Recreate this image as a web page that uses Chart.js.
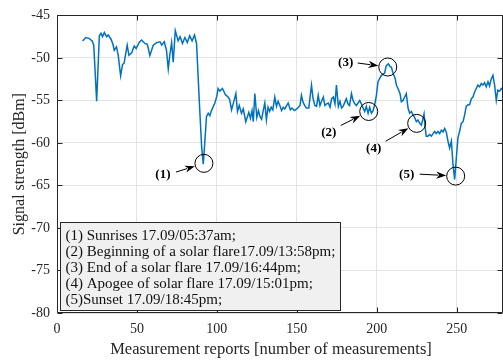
<!DOCTYPE html>
<html>
<head>
<meta charset="utf-8">
<script src="https://cdn.jsdelivr.net/npm/chart.js@4"></script>
<style>
html,body{margin:0;padding:0;background:#fff;}
#wrap{width:503px;height:363px;position:relative;}
</style>
</head>
<body>
<div id="wrap"><canvas id="c" width="503" height="363"></canvas></div>
<script>
// ---- data ----
const measurementIdx = [
16,18,20,22,23,24.8,26.5,27.5,28.5,29.6,31,32,33.8,35,35.8,37.2,38.3,39.8,41,42,43.9,45,46.7,48.3,49.5,51.3,52.9,55,56.5,58.1,60.2,62.3,64.4,65.5,67.1,68.5,69.6,70.6,71.7,72.7,74,75.8,77,78.5,80,81.5,83,84.5,86,87.3,
89,90.5,91.5,92.5,93.5,94.6,95.6,96.6,98.75,100,100.8,101.9,103.5,105.3,107,108,109.2,110.5,111.9,112.9,114,115.4,116.5,118.1,120,121,122,122.8,123.75,125,126,127,128,129,130,131,132,133,134,135,136.25,137.3,138.3,139.4,140.5,141.5,142.5,144.6,
146,147,148.5,150,151,152,152.9,153.9,155,156,157.5,159.2,160.2,161.3,162.4,163.4,164.5,165.5,166.6,167.6,168.7,169.7,170.8,171.8,172.9,173.9,174.8,176,177,178,179,181,182,183,184.2,185.2,186.3,187.3,189.4,190.4,191.5,192.5,193.5,194.6,195.6,196.7,197.7,198.75,199.8,200.8,202.9,204.9,206,207.3,208.3,209.2,210.2,211.5,212.3,213.3,214.6,215.4,216.5,217.5,218.5,219.6,220.6,221.7,222.7,223.7,224.8,225.8,226.9,227.9,228.9,229.6,230.3,231,232,233.1,234.2,235.2,236.25,237.3,238.3,239.4,240.4,241.5,242.5,243.5,244.6,245.6,246.7,247.7,248.75,249.8,250.8,251.9,252.9,254,255,256,257.1,258.1,259.2,260.2,261.25,262.3,263.3,264.4,265.4,266.5,267.5,268.5,269.6,270.6,271.6,272.7,273.75,274.8,275.8,276.9,277.9,279
];
const signalDbm = [
-48.0,-47.6,-47.7,-48.0,-48.5,-55.1,-47.4,-47.1,-47.5,-47.0,-47.5,-47.3,-47.8,-48.4,-49.1,-48.7,-49.7,-52.1,-50.8,-50.6,-48.5,-49.7,-49.4,-48.6,-48.9,-48.2,-47.9,-48.3,-48.4,-49.7,-48.5,-48.2,-48.1,-48.5,-48.1,-49.1,-51.3,-49.6,-48.2,-50.5,-46.8,-48.0,-47.5,-48.3,-47.6,-48.2,-47.4,-48.0,-47.3,-48.3,
-55.0,-60.5,-62.5,-59.8,-56.9,-56.5,-56.8,-56.2,-55.3,-54.5,-53.6,-53.9,-53.6,-54.3,-54.6,-54.9,-56.1,-55.2,-54.2,-56.3,-55.6,-56.5,-56.0,-57.5,-56.4,-57.1,-56.2,-57.5,-54.2,-57.0,-56.2,-56.9,-57.2,-56.2,-55.3,-57.3,-55.8,-56.3,-55.8,-56.1,-54.6,-55.7,-55.1,-55.6,-56.2,-55.8,-56.0,-55.3,
-56.1,-55.9,-56.2,-56.0,-55.8,-55.6,-54.4,-55.2,-55.6,-55.9,-55.9,-53.2,-54.8,-55.6,-55.7,-54.4,-55.6,-55.1,-54.6,-55.6,-55.4,-55.3,-55.8,-54.8,-54.6,-55.4,-53.2,-55.7,-55.1,-55.9,-55.7,-54.8,-55.4,-55.6,-54.2,-55.0,-55.4,-55.6,-55.0,-55.4,-55.9,-56.3,-55.7,-56.5,-55.8,-56.5,-56.2,-55.5,-54.4,-52.8,-52.05,-51.8,-50.9,-50.7,-51.0,-51.1,-51.8,-52.4,-53.2,-53.6,-54.2,-55.15,-55.0,-54.6,-54.2,-55.9,-56.5,-56.3,-56.7,-57.0,-57.5,-57.3,-57.7,-57.9,-57.2,-56.6,-58.2,-59.2,-59.2,-59.0,-59.2,-58.9,-58.65,-58.9,-58.65,-58.9,-58.5,-58.7,-58.3,-58.7,-59.8,-60.6,-59.8,-62.5,-64.3,-61.8,-59.4,-58.6,-57.7,-57.5,-56.7,-55.7,-55.5,-55.5,-54.8,-54.6,-54.0,-53.6,-53.2,-53.4,-53.0,-53.2,-52.9,-53.4,-52.8,-53.3,-52.5,-52.05,-53.2,-55.0,-53.8,-53.9,-53.6,-53.8
];
const xTicks = [0, 50, 100, 150, 200, 250];
const yTicks = [-80, -75, -70, -65, -60, -55, -50, -45];

// annotation markers (data coordinates)
const markerLabels = ['(1)', '(2)', '(3)', '(4)', '(5)'];
const markerX = [91.9, 195.0, 206.9, 225.0, 249.4];
const markerY = [-62.4, -56.3, -51.07, -57.7, -63.9];
const labelX = [66.25, 170.0, 180.6, 198.1, 218.75];
const labelY = [-63.67, -58.77, -50.6, -60.63, -63.67];
const tailX = [74.4, 177.5, 188.1, 205.6, 226.9];
const tailY = [-63.43, -57.95, -50.6, -59.8, -63.67];

const legendLines = [
  '(1) Sunrises 17.09/05:37am;',
  '(2) Beginning of a solar flare17.09/13:58pm;',
  '(3) End of a solar flare 17.09/16:44pm;',
  '(4) Apogee of solar flare 17.09/15:01pm;',
  '(5)Sunset 17.09/18:45pm;'
];

const serif = '"Liberation Serif", "Times New Roman", serif';
const axisColor = '#262626';

const points = measurementIdx.map((x, i) => ({x: x, y: signalDbm[i]}));

const decor = {
  id: 'decor',
  afterDatasetsDraw(chart) {
    const ctx = chart.ctx;
    const a = chart.chartArea;
    const xs = chart.scales.x, ys = chart.scales.y;
    ctx.save();
    // axes box
    ctx.strokeStyle = axisColor;
    ctx.lineWidth = 1;
    const L = Math.round(a.left) + 0.5, R = Math.round(a.right) - 0.5;
    const T = Math.round(a.top) + 0.5, B = Math.round(a.bottom) - 0.5;
    ctx.beginPath();
    ctx.moveTo(L, B); ctx.lineTo(L, T); ctx.lineTo(R, T); ctx.lineTo(R, B); ctx.lineTo(L, B);
    ctx.stroke();
    // inward ticks
    const tl = 5;
    ctx.beginPath();
    xTicks.forEach(v => {
      const px = Math.round(xs.getPixelForValue(v)) + 0.5;
      ctx.moveTo(px, B); ctx.lineTo(px, B - tl);
      ctx.moveTo(px, T); ctx.lineTo(px, T + tl);
    });
    yTicks.forEach(v => {
      const py = Math.round(ys.getPixelForValue(v)) + 0.5;
      ctx.moveTo(L, py); ctx.lineTo(L + tl, py);
      ctx.moveTo(R, py); ctx.lineTo(R - tl, py);
    });
    ctx.stroke();

    // markers: circles, arrows, labels
    ctx.strokeStyle = '#000';
    ctx.fillStyle = '#000';
    const r = 9;
    markerLabels.forEach((lab, i) => {
      const cx = xs.getPixelForValue(markerX[i]), cy = ys.getPixelForValue(markerY[i]);
      ctx.lineWidth = 1;
      ctx.beginPath(); ctx.arc(cx, cy, r, 0, Math.PI * 2); ctx.stroke();
      const tx = xs.getPixelForValue(tailX[i]), ty = ys.getPixelForValue(tailY[i]);
      const dx = cx - tx, dy = cy - ty, d = Math.hypot(dx, dy);
      const ux = dx / d, uy = dy / d;
      const ex = cx - ux * (r + 0.5), ey = cy - uy * (r + 0.5);
      const hl = 10, hw = 3.6;
      const bx = ex - ux * hl, by = ey - uy * hl;
      ctx.beginPath(); ctx.moveTo(tx, ty); ctx.lineTo(bx + ux * 2, by + uy * 2); ctx.stroke();
      ctx.beginPath();
      ctx.moveTo(ex, ey);
      ctx.lineTo(bx - uy * hw, by + ux * hw);
      ctx.lineTo(bx + ux * 3, by + uy * 3);
      ctx.lineTo(bx + uy * hw, by - ux * hw);
      ctx.closePath(); ctx.fill();
      ctx.font = 'bold 13px ' + serif;
      ctx.textAlign = 'center'; ctx.textBaseline = 'middle';
      ctx.fillText(lab, xs.getPixelForValue(labelX[i]), ys.getPixelForValue(labelY[i]));
    });

    // legend box
    ctx.font = '15px ' + serif;
    let w = 0;
    legendLines.forEach(t => { w = Math.max(w, ctx.measureText(t).width); });
    const lh = 16.2;
    const bx0 = Math.round(a.left) + 3.5, bw = Math.round(w + 10);
    const bh = 88;
    const by0 = Math.round(a.bottom) - 2.5 - bh;
    ctx.fillStyle = '#f0f0f0';
    ctx.fillRect(bx0, by0, bw, bh);
    ctx.strokeStyle = '#262626';
    ctx.lineWidth = 1;
    ctx.strokeRect(bx0, by0, bw, bh);
    ctx.fillStyle = '#111';
    ctx.textAlign = 'left'; ctx.textBaseline = 'middle';
    legendLines.forEach((t, i) => {
      ctx.fillText(t, bx0 + 5, by0 + 4 + lh * i + lh / 2 + 1);
    });

    // axis titles
    ctx.fillStyle = axisColor;
    ctx.font = '16.5px ' + serif;
    ctx.textAlign = 'center'; ctx.textBaseline = 'middle';
    ctx.fillText('Measurement reports [number of measurements]', (a.left + a.right) / 2 - 9, 350);
    ctx.font = '16px ' + serif;
    ctx.save();
    ctx.translate(20, (a.top + a.bottom) / 2);
    ctx.rotate(-Math.PI / 2);
    ctx.fillText('Signal strength [dBm]', 0, 0);
    ctx.restore();
    ctx.restore();
  }
};

new Chart(document.getElementById('c'), {
  type: 'line',
  data: {
    datasets: [{
      data: points,
      borderColor: '#0072BD',
      borderWidth: 1.5,
      pointRadius: 0,
      tension: 0,
      fill: false
    }]
  },
  options: {
    responsive: false,
    animation: false,
    devicePixelRatio: 1,
    layout: {padding: {top: 13, right: 0, left: 0, bottom: 0}},
    plugins: {legend: {display: false}, tooltip: {enabled: false}},
    scales: {
      x: {
        type: 'linear', min: 0, max: 279,
        afterFit(s) { s.height = 50; },
        afterBuildTicks(s) { s.ticks = xTicks.map(v => ({value: v})); },
        grid: {color: '#e3e3e3', drawTicks: false, lineWidth: 1},
        border: {display: false},
        ticks: {padding: 8, color: axisColor, font: {family: serif, size: 14}, maxRotation: 0, autoSkip: false}
      },
      y: {
        type: 'linear', min: -80, max: -45,
        afterFit(s) { s.width = 57; },
        afterBuildTicks(s) { s.ticks = yTicks.map(v => ({value: v})); },
        grid: {color: '#e3e3e3', drawTicks: false, lineWidth: 1},
        border: {display: false},
        ticks: {padding: 7, color: axisColor, font: {family: serif, size: 14}, autoSkip: false}
      }
    }
  },
  plugins: [decor]
});
</script>
</body>
</html>
